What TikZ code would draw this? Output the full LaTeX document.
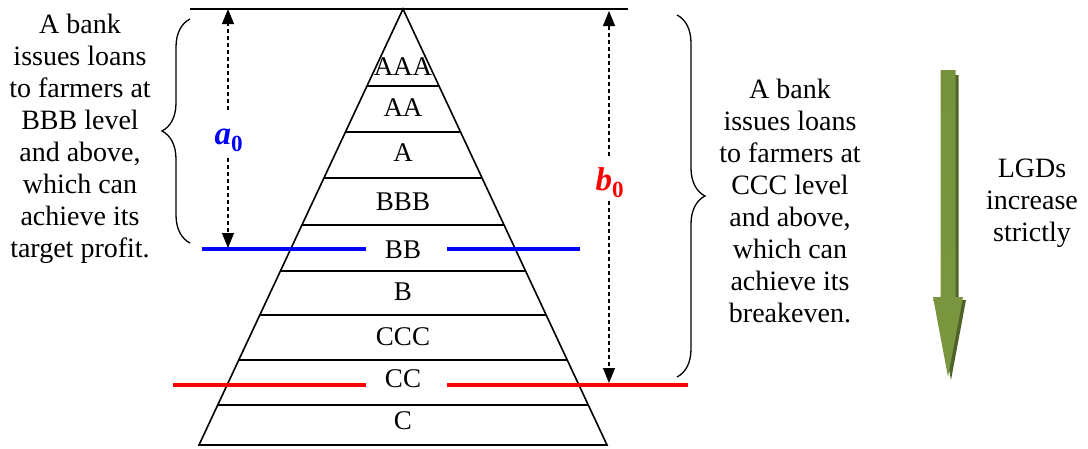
\documentclass[tikz,border=0pt]{standalone}
\usepackage{fontspec}
\setmainfont{Liberation Serif}
\usetikzlibrary{arrows.meta,decorations.pathreplacing,calc}
\definecolor{olivedark}{HTML}{76923C}
\definecolor{olivelight}{HTML}{A0BF62}
\definecolor{oliveshadow}{HTML}{4F6228}
\begin{document}
\begin{tikzpicture}[x=1pt,y=-1pt,
  body/.style={font=\fontsize{28}{32}\selectfont, align=center, inner sep=0pt},
  lvl/.style={font=\fontsize{27}{28}\selectfont, inner sep=0pt},
  dim/.style={dash pattern=on 4pt off 3pt, line width=1.1pt},
  tipend/.style={-{Triangle[length=15pt,width=12pt]}},
  edge/.style={line width=1.6pt},
  cut/.style={line width=4pt},
  bracestyle/.style={line width=1.3pt, decorate, decoration={brace, amplitude=28pt}},
  sym/.style={font=\fontsize{33}{34}\selectfont\bfseries\itshape, inner sep=0pt}]
\useasboundingbox (0,0) rectangle (1088,448);

% pyramid
\coordinate (apex) at (403,9);
\coordinate (bl) at (199,445);
\coordinate (br) at (607,445);
\coordinate (topL) at (190,9);
\coordinate (topR) at (628,9);
\draw[line width=1.3pt] (topL) -- (topR);
\draw[edge, line join=miter] (apex) -- (bl) -- (br) -- cycle;
\foreach \y in {86,132,178,225,271,315,360,405}{
  \draw[edge] ($(apex)!{(\y-9)/436}!(bl)$) -- ($(apex)!{(\y-9)/436}!(br)$);
}

% level labels
\node[lvl] (AAA) at (403,67) {AAA};
\node[lvl] (AA)  at (403,108) {AA};
\node[lvl] (A)   at (403,153) {A};
\node[lvl] (BBB) at (403,202) {BBB};
\node[lvl] (BB)  at (403,250) {BB};
\node[lvl] (B)   at (403,292) {B};
\node[lvl] (CCC) at (403,337) {CCC};
\node[lvl] (CC)  at (403,379) {CC};
\node[lvl] (C)   at (403,421) {C};

% cut-off lines
\coordinate (bu1) at (202,249); \coordinate (bu2) at (366,249);
\coordinate (bu3) at (447,249); \coordinate (bu4) at (580,249);
\draw[cut, blue] (bu1) -- (bu2);
\draw[cut, blue] (bu3) -- (bu4);
\coordinate (re1) at (173,385); \coordinate (re2) at (366,385);
\coordinate (re3) at (447,385); \coordinate (re4) at (688,385);
\draw[cut, red] (re1) -- (re2);
\draw[cut, red] (re3) -- (re4);

% a0 dimension
\coordinate (a0top) at (228,9);
\coordinate (a0bot) at (228,248);
\node[sym, text=blue] (a0) at (229,140) {a\textsubscript{\upshape 0}};
\draw[dim, tipend] (a0) ++(-1,-30) -- (a0top);
\draw[dim, tipend] (a0) ++(-1,18) -- (a0bot);

% b0 dimension
\coordinate (b0top) at (609,11);
\coordinate (b0bot) at (609,383);
\node[sym, text=red] (b0) at (610,183) {b\textsubscript{\upshape 0}};
\draw[dim, tipend] (b0) ++(-1,-27) -- (b0top);
\draw[dim, tipend] (b0) ++(-1,18) -- (b0bot);

% braces
\coordinate (lb1) at (190,243); \coordinate (lb2) at (190,19);
\draw[bracestyle] (lb1) -- (lb2);
\coordinate (rb1) at (677,15); \coordinate (rb2) at (677,377);
\draw[bracestyle] (rb1) -- (rb2);

% texts
\node[body] (lefttxt) at (80,139) {A bank\\issues loans\\to farmers at\\BBB level\\and above,\\which can\\achieve its\\target profit.};
\node[body] (righttxt) at (790,201) {A bank\\issues loans\\to farmers at\\CCC level\\and above,\\which can\\achieve its\\breakeven.};
\node[body] (lgd) at (1032,203) {LGDs\\increase\\strictly};

% green arrow
\fill[oliveshadow] (943.5,75) -- (958.5,75) -- (958.5,300) -- (966,300) -- (951,380) -- (936,300) -- (943.5,300) -- cycle;
\shade[top color=olivedark, middle color=olivelight, bottom color=olivedark!90!olivelight]
  (940.5,70) -- (955.5,70) -- (955.5,297) -- (963,297) -- (948,377) -- (933,297) -- (940.5,297) -- cycle;
\end{tikzpicture}
\end{document}
